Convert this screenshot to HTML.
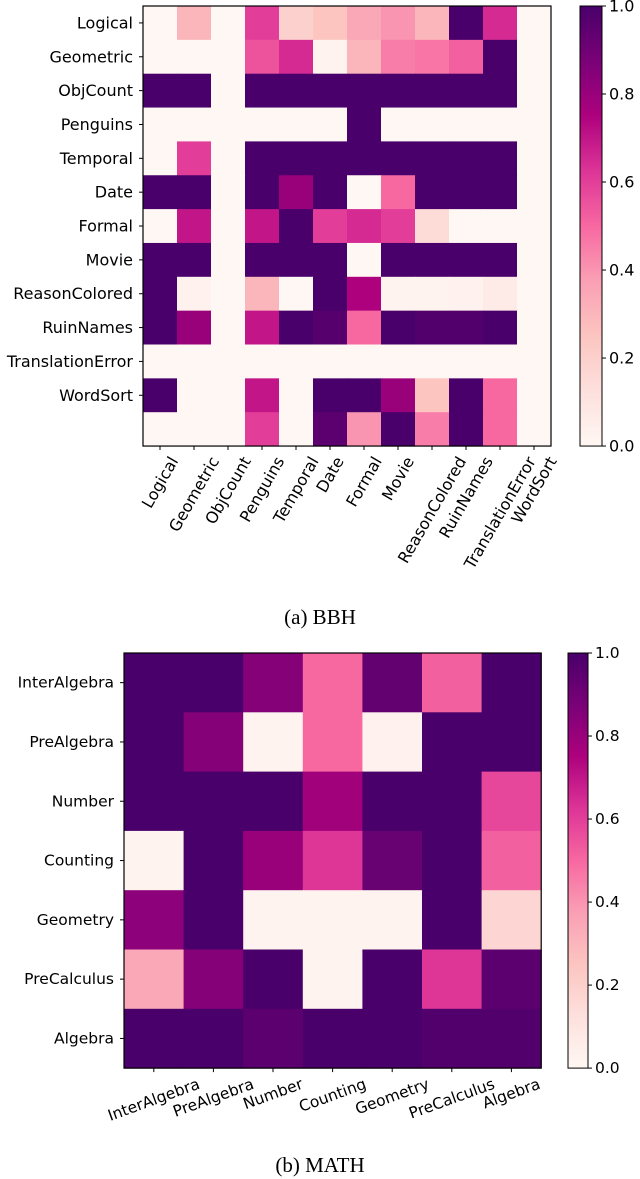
<!DOCTYPE html>
<html><head><meta charset="utf-8">
<style>
html,body{margin:0;padding:0;background:#fff;}
svg{display:block;font-family:"DejaVu Sans","Liberation Sans",sans-serif;}
.cap{font-family:"Liberation Serif",serif;font-size:21px;fill:#000;}
</style></head>
<body>
<svg id="fig" width="640" height="1179" viewBox="0 0 640 1179" xmlns="http://www.w3.org/2000/svg">
<defs>
<linearGradient id="cmap" x1="0" y1="1" x2="0" y2="0">
<stop offset="0" stop-color="#fff7f3"/><stop offset="0.125" stop-color="#fde0dd"/>
<stop offset="0.25" stop-color="#fcc5c0"/><stop offset="0.375" stop-color="#fa9fb5"/>
<stop offset="0.5" stop-color="#f768a1"/><stop offset="0.625" stop-color="#dd3497"/>
<stop offset="0.75" stop-color="#ae017e"/><stop offset="0.875" stop-color="#7a0177"/>
<stop offset="1" stop-color="#49006a"/>
</linearGradient>
</defs>
<g id="bbh"></g>
<g id="math"></g>
<text class="cap" x="320" y="624" text-anchor="middle">(a) BBH</text>
<text class="cap" x="320" y="1172" text-anchor="middle">(b) MATH</text>
</svg>
<script>
const bbhRowLabels = ["Logical","Geometric","ObjCount","Penguins","Temporal","Date","Formal","Movie","ReasonColored","RuinNames","TranslationError","WordSort"];
const bbhColLabels = ["Logical","Geometric","ObjCount","Penguins","Temporal","Date","Formal","Movie","ReasonColored","RuinNames","TranslationError","WordSort"];
const bbhValues = [
[0,0.3,0,0.6,0.2,0.25,0.35,0.4,0.3,1,0.65,0],
[0,0,0,0.55,0.65,0.02,0.3,0.45,0.47,0.52,1,0],
[1,1,0,1,1,1,1,1,1,1,1,0],
[0,0,0,0,0,0,1,0,0,0,0,0],
[0,0.6,0,1,1,1,1,1,1,1,1,0],
[1,1,0,1,0.8,1,0,0.5,1,1,1,0],
[0,0.7,0,0.7,1,0.6,0.65,0.6,0.15,0,0,0],
[1,1,0,1,1,1,0,1,1,1,1,0],
[1,0.03,0,0.3,0,1,0.75,0.02,0.02,0.03,0.07,0],
[1,0.8,0,0.7,1,0.97,0.5,1,0.98,0.98,1,0],
[0,0,0,0,0,0,0,0,0,0,0,0],
[1,0,0,0.7,0,1,1,0.8,0.25,1,0.5,0],
[0,0,0,0.6,0,0.95,0.4,1,0.45,1,0.5,0]
];
const mathLabels = ["InterAlgebra","PreAlgebra","Number","Counting","Geometry","PreCalculus","Algebra"];
const mathValues = [
[1,1,0.85,0.5,0.93,0.52,1],
[1,0.85,0.02,0.5,0.03,1,1],
[1,1,1,0.78,1,1,0.58],
[0.02,1,0.8,0.62,0.92,1,0.52],
[0.83,1,0.02,0.02,0.02,1,0.17],
[0.35,0.85,1,0.02,1,0.62,0.95],
[1,1,0.95,1,1,0.98,0.98]
];
const cbTicks = [0,0.2,0.4,0.6,0.8,1.0];

const NS="http://www.w3.org/2000/svg";
const stops=["#fff7f3","#fde0dd","#fcc5c0","#fa9fb5","#f768a1","#dd3497","#ae017e","#7a0177","#49006a"];
function hex(h){return [1,3,5].map(i=>parseInt(h.substr(i,2),16));}
function cmap(v){v=Math.max(0,Math.min(1,v));const p=v*8;const i=Math.min(7,Math.floor(p));const t=p-i;
const a=hex(stops[i]),b=hex(stops[i+1]);return "rgb("+a.map((x,k)=>Math.round(x+(b[k]-x)*t)).join(",")+")";}
function mk(parent,tag,attrs){const e=document.createElementNS(NS,tag);for(const k in attrs)e.setAttribute(k,attrs[k]);parent.appendChild(e);return e;}

function heatmap(g,cfg){
  const {x0,y0,cw,ch,values,rowLabels,colLabels,rot,fs,cb,name}=cfg;
  const nr=values.length,nc=values[0].length;
  const W=nc*cw,H=nr*ch;
  const xs=c=>x0+c*cw, ys=r=>y0+r*ch;
  values.forEach((row,r)=>row.forEach((v,c)=>{
    const rc=mk(g,"rect",{x:xs(c),y:ys(r),width:cw+0.5,height:ch+0.5,fill:cmap(v)});
    
    
  }));
  const fr=mk(g,"rect",{x:x0,y:y0,width:W,height:H,fill:"none",stroke:"#000","stroke-width":1.2});
  
  
  rowLabels.forEach((l,r)=>{
    const yc=ys(r)+ch/2;
    mk(g,"line",{x1:x0-4,x2:x0,y1:yc,y2:yc,stroke:"#000","stroke-width":1});
    const t=mk(g,"text",{x:x0-10,y:yc,"text-anchor":"end","dominant-baseline":"central","font-size":fs});
    t.textContent=l;
    
    
  });
  colLabels.forEach((l,c)=>{
    const xc=xs(c)+cw/2;
    mk(g,"line",{x1:xc,x2:xc,y1:y0+H,y2:y0+H+4,stroke:"#000","stroke-width":1});
    const t=mk(g,"text",{x:0,y:0,"text-anchor":"middle","dominant-baseline":"central","font-size":fs});
    t.textContent=l;
    
    
    const L=t.getComputedTextLength();const a=rot*Math.PI/180;
    const bh=L*Math.sin(a)+fs*Math.cos(a);
    const cy=y0+H+8+bh/2;
    t.setAttribute("transform","translate("+xc+","+cy+") rotate("+(-rot)+")");
  });
  const cbr=mk(g,"rect",{x:cb.x,y:y0,width:cb.w,height:H,fill:"url(#cmap)",stroke:"#000","stroke-width":1});
  
  
  cbTicks.forEach(v=>{
    const y=y0+H-v*H;
    mk(g,"line",{x1:cb.x+cb.w,x2:cb.x+cb.w+4,y1:y,y2:y,stroke:"#000","stroke-width":1});
    const t=mk(g,"text",{x:cb.x+cb.w+7,y:y,"dominant-baseline":"central","font-size":fs});
    t.textContent=v.toFixed(1);
    
    
  });
}
heatmap(document.getElementById("bbh"),{x0:143,y0:6,cw:34,ch:33.85,values:bbhValues,rowLabels:bbhRowLabels,colLabels:bbhColLabels,rot:60,fs:16,cb:{x:580,w:22},name:"bbh"});
heatmap(document.getElementById("math"),{x0:124,y0:653,cw:59.6,ch:59.3,values:mathValues,rowLabels:mathLabels,colLabels:mathLabels,rot:20,fs:15.5,cb:{x:568,w:20},name:"math"});
</script>
</body></html>
